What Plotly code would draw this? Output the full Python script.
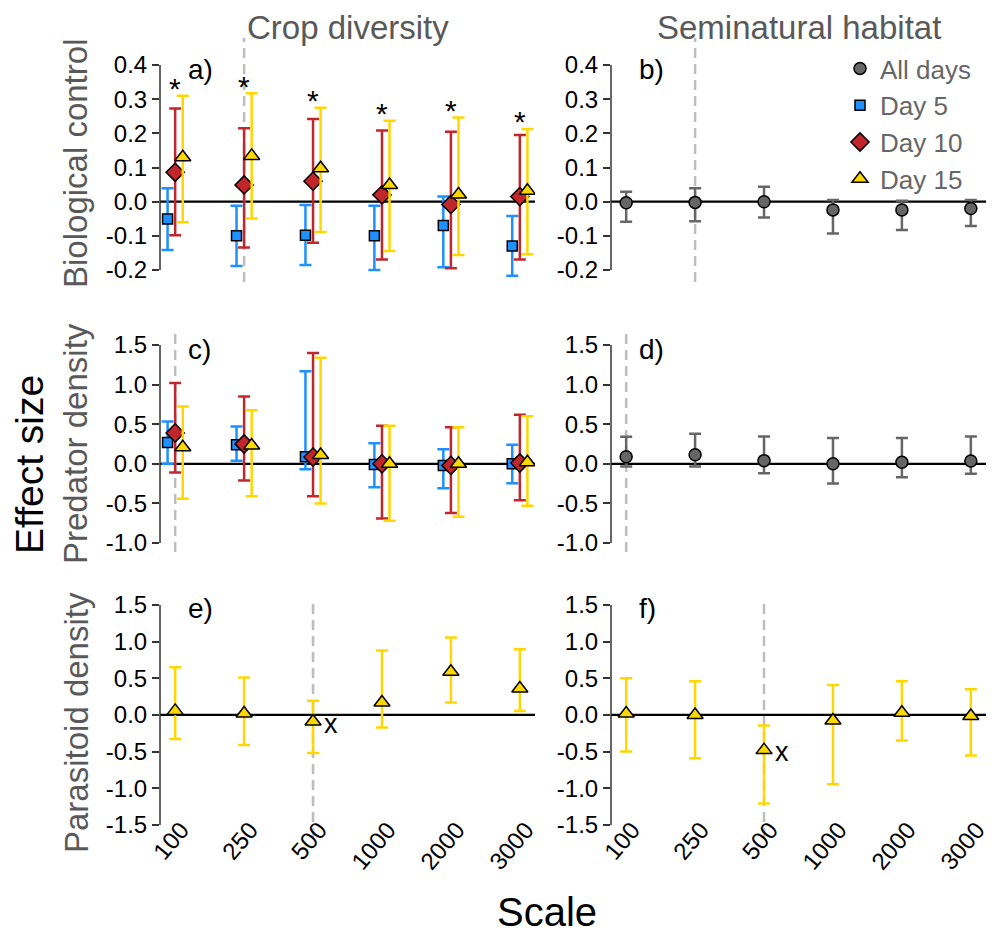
import plotly.graph_objects as go

# ---------------- data ----------------
scales = ["100", "250", "500", "1000", "2000", "3000"]

# a) Biological control - crop diversity
bc_crop_d5 = [-0.051, -0.100, -0.098, -0.100, -0.070, -0.130]
bc_crop_d5_lo = [-0.141, -0.188, -0.185, -0.200, -0.192, -0.217]
bc_crop_d5_hi = [0.039, -0.012, -0.010, -0.012, 0.015, -0.042]
bc_crop_d10 = [0.086, 0.049, 0.060, 0.020, -0.008, 0.015]
bc_crop_d10_lo = [-0.098, -0.134, -0.120, -0.169, -0.195, -0.169]
bc_crop_d10_hi = [0.273, 0.215, 0.242, 0.208, 0.205, 0.195]
bc_crop_d15 = [0.130, 0.134, 0.098, 0.049, 0.021, 0.032]
bc_crop_d15_lo = [-0.060, -0.049, -0.089, -0.144, -0.156, -0.154]
bc_crop_d15_hi = [0.310, 0.317, 0.275, 0.237, 0.246, 0.213]
bc_crop_signif = ["*", "*", "*", "*", "*", "*"]

# b) Biological control - seminatural habitat
bc_semi_all = [-0.003, -0.002, 0.000, -0.024, -0.024, -0.020]
bc_semi_all_lo = [-0.059, -0.057, -0.046, -0.093, -0.083, -0.071]
bc_semi_all_hi = [0.029, 0.039, 0.044, 0.005, 0.003, 0.005]

# c) Predator density - crop diversity
pd_crop_d5 = [0.27, 0.24, 0.09, -0.01, -0.02, 0.00]
pd_crop_d5_lo = [0.00, 0.04, -0.07, -0.295, -0.31, -0.245]
pd_crop_d5_hi = [0.535, 0.47, 1.17, 0.26, 0.185, 0.24]
pd_crop_d10 = [0.39, 0.25, 0.085, 0.00, -0.02, 0.01]
pd_crop_d10_lo = [-0.11, -0.21, -0.41, -0.69, -0.62, -0.46]
pd_crop_d10_hi = [1.02, 0.85, 1.40, 0.48, 0.46, 0.62]
pd_crop_d15 = [0.21, 0.23, 0.11, 0.00, 0.00, 0.02]
pd_crop_d15_lo = [-0.44, -0.41, -0.50, -0.72, -0.67, -0.53]
pd_crop_d15_hi = [0.725, 0.675, 1.34, 0.48, 0.46, 0.60]

# d) Predator density - seminatural habitat
pd_semi_all = [0.09, 0.115, 0.04, 0.00, 0.02, 0.035]
pd_semi_all_lo = [-0.035, -0.035, -0.12, -0.25, -0.17, -0.125]
pd_semi_all_hi = [0.34, 0.38, 0.345, 0.325, 0.325, 0.345]

# e) Parasitoid density - crop diversity (day 15)
par_crop_d15 = [0.055, 0.02, -0.09, 0.17, 0.59, 0.36]
par_crop_d15_lo = [-0.33, -0.41, -0.52, -0.17, 0.17, 0.055]
par_crop_d15_hi = [0.65, 0.51, 0.195, 0.88, 1.055, 0.895]
par_crop_flag = ["", "", "x", "", "", ""]

# f) Parasitoid density - seminatural habitat (day 15)
par_semi_d15 = [0.02, 0.00, -0.48, -0.077, 0.03, -0.015]
par_semi_d15_lo = [-0.50, -0.59, -1.21, -0.945, -0.35, -0.555]
par_semi_d15_hi = [0.50, 0.46, -0.145, 0.41, 0.46, 0.35]
par_semi_flag = ["", "", "x", "", "", ""]

# selected (best) scale per panel a..f
best_scale = ["250", "250", "100", "100", "500", "500"]

col_title = ["Crop diversity", "Seminatural habitat"]
row_title = ["Biological control", "Predator density", "Parasitoid density"]
panel_tags = ["a)", "b)", "c)", "d)", "e)", "f)"]
row_ticks = [
    [-0.2, -0.1, 0.0, 0.1, 0.2, 0.3, 0.4],
    [-1.0, -0.5, 0.0, 0.5, 1.0, 1.5],
    [-1.5, -1.0, -0.5, 0.0, 0.5, 1.0, 1.5],
]

# ---------------- style ----------------
W, H = 997, 938
FONT = "Liberation Sans, Arial, sans-serif"
BLUE = "#1E90FF"
RED = "#C0272D"
GOLD = "#FFD700"
GREY = "#666666"
AXC = "#333333"
TITLEC = "#595959"


def px(x):
    return x / W


def py(y):
    return 1 - y / H


col_px = [(160, 535), (611, 986)]
row_px = [(38, 282), (328, 552), (600, 838)]
row_range = [[-0.235, 0.479], [-1.114, 1.715], [-1.679, 1.568]]
XR = [0.78, 6.22]
dodge = 0.11

fig = go.Figure()
layout = dict(
    width=W, height=H,
    margin=dict(l=0, r=0, t=0, b=0, autoexpand=False),
    paper_bgcolor="white", plot_bgcolor="white",
    font=dict(family=FONT, size=24, color="black"),
    showlegend=True,
)

shapes = []
annotations = []
xi = list(range(1, 7))

for r in range(3):
    for c in range(2):
        k = r * 2 + c + 1
        xa = "xaxis" if k == 1 else f"xaxis{k}"
        ya = "yaxis" if k == 1 else f"yaxis{k}"
        xr = "x" if k == 1 else f"x{k}"
        yr = "y" if k == 1 else f"y{k}"
        xd = [px(col_px[c][0]), px(col_px[c][1])]
        yd = [py(row_px[r][1]), py(row_px[r][0])]
        xax = dict(domain=xd, range=XR, anchor=yr, showgrid=False, zeroline=False,
                   showline=False, tickmode="array", tickvals=xi, ticktext=scales,
                   showticklabels=False, ticks="", automargin=False)
        if r == 2:
            xax.update(showticklabels=True, tickangle=-50, anchor="free",
                       position=py(810), ticklabelshift=6,
                       tickfont=dict(size=24, color="black", family=FONT))
        layout[xa] = xax
        tv = row_ticks[r]
        layout[ya] = dict(domain=yd, range=row_range[r], anchor=xr, showgrid=False,
                          zeroline=False, showline=False, tickmode="array", tickvals=tv,
                          ticktext=[f"{v:.1f}" for v in tv], ticks="outside", ticklen=7,
                          tickwidth=1.5, tickcolor=AXC, automargin=False,
                          tickfont=dict(size=24, color="black", family=FONT))
        # partial y axis line (from first to last tick)
        shapes.append(dict(type="line", xref=f"{xr} domain", yref=yr, x0=0, x1=0,
                           y0=tv[0], y1=tv[-1], line=dict(color=AXC, width=1.5)))
        # zero line
        shapes.append(dict(type="line", xref=f"{xr} domain", yref=yr, x0=0, x1=1,
                           y0=0, y1=0, line=dict(color="black", width=2.2), layer="below"))
        # dashed line at best scale
        bx = scales.index(best_scale[k - 1]) + 1
        shapes.append(dict(type="line", xref=xr, yref=f"{yr} domain", x0=bx, x1=bx,
                           y0=0, y1=1, line=dict(color="#BDBDBD", width=2.5, dash="10px,6px"),
                           layer="below"))
        # panel tag
        annotations.append(dict(text=panel_tags[k - 1], xref=f"{xr} domain", yref=yr,
                                x=0.07, y=tv[-1], xanchor="left", yanchor="middle",
                                yshift=-4, showarrow=False,
                                font=dict(size=28, color="black", family=FONT)))


def add_series(k, xs, y, lo, hi, color, symbol, size, name, show, rank):
    xr = "x" if k == 1 else f"x{k}"
    yr = "y" if k == 1 else f"y{k}"
    fig.add_trace(go.Scatter(
        x=xs, y=y, xaxis=xr, yaxis=yr, mode="markers", name=name,
        showlegend=show, legendrank=rank, legendgroup=name,
        marker=dict(symbol=symbol, size=size, color=color,
                    line=dict(color="black", width=1.5)),
        error_y=dict(type="data", symmetric=False,
                     array=[h - v for h, v in zip(hi, y)],
                     arrayminus=[v - l for v, l in zip(y, lo)],
                     color=color, thickness=2.5, width=6),
        hoverinfo="skip",
    ))


xm = [i - dodge for i in xi]
xp = [i + dodge for i in xi]

# a)
add_series(1, xm, bc_crop_d5, bc_crop_d5_lo, bc_crop_d5_hi, BLUE, "square", 10, "Day 5", True, 2)
add_series(1, xi, bc_crop_d10, bc_crop_d10_lo, bc_crop_d10_hi, RED, "diamond", 14, "Day 10", True, 3)
add_series(1, xp, bc_crop_d15, bc_crop_d15_lo, bc_crop_d15_hi, GOLD, "triangle-up", 14, "Day 15", True, 4)
# b)
add_series(2, xi, bc_semi_all, bc_semi_all_lo, bc_semi_all_hi, GREY, "circle", 12, "All days", True, 1)
# c)
add_series(3, xm, pd_crop_d5, pd_crop_d5_lo, pd_crop_d5_hi, BLUE, "square", 10, "Day 5", False, 2)
add_series(3, xi, pd_crop_d10, pd_crop_d10_lo, pd_crop_d10_hi, RED, "diamond", 14, "Day 10", False, 3)
add_series(3, xp, pd_crop_d15, pd_crop_d15_lo, pd_crop_d15_hi, GOLD, "triangle-up", 14, "Day 15", False, 4)
# d)
add_series(4, xi, pd_semi_all, pd_semi_all_lo, pd_semi_all_hi, GREY, "circle", 12, "All days", False, 1)
# e)
add_series(5, xi, par_crop_d15, par_crop_d15_lo, par_crop_d15_hi, GOLD, "triangle-up", 14, "Day 15", False, 4)
# f)
add_series(6, xi, par_semi_d15, par_semi_d15_lo, par_semi_d15_hi, GOLD, "triangle-up", 14, "Day 15", False, 4)

# significance marks
for i, s in enumerate(bc_crop_signif):
    if s:
        annotations.append(dict(text=s, x=xi[i], y=bc_crop_d15_hi[i], xref="x", yref="y",
                                showarrow=False, yanchor="middle", yshift=7,
                                font=dict(size=30, color="black", family=FONT)))
for k, flags, vals in ((5, par_crop_flag, par_crop_d15), (6, par_semi_flag, par_semi_d15)):
    for i, s in enumerate(flags):
        if s:
            annotations.append(dict(text=s, x=xi[i], y=vals[i], xref=f"x{k}", yref=f"y{k}",
                                    showarrow=False, xanchor="left", yanchor="middle",
                                    xshift=9, yshift=-2,
                                    font=dict(size=27, color="black", family=FONT)))

# column titles
for c, t in enumerate(col_title):
    annotations.append(dict(text=t, x=px((col_px[c][0] + col_px[c][1]) / 2), y=py(27),
                            xref="paper", yref="paper", showarrow=False,
                            xanchor="center", yanchor="middle",
                            font=dict(size=33, color=TITLEC, family=FONT)))
# row titles
for r, t in enumerate(row_title):
    annotations.append(dict(text=t, x=px(76), y=py((row_px[r][0] + row_px[r][1]) / 2 + 4),
                            xref="paper", yref="paper", showarrow=False, textangle=-90,
                            xanchor="center", yanchor="middle",
                            font=dict(size=33, color=TITLEC, family=FONT)))
annotations.append(dict(text="Effect size", x=px(29), y=py(465), xref="paper", yref="paper",
                        showarrow=False, textangle=-90, xanchor="center", yanchor="middle",
                        font=dict(size=39, color="black", family=FONT)))
annotations.append(dict(text="Scale", x=px(547), y=py(912), xref="paper", yref="paper",
                        showarrow=False, xanchor="center", yanchor="middle",
                        font=dict(size=40, color="black", family=FONT)))

layout["shapes"] = shapes
layout["annotations"] = annotations
layout["legend"] = dict(x=px(840), y=py(45), xanchor="left", yanchor="top",
                        font=dict(size=26, color="#666666", family=FONT),
                        bgcolor="rgba(0,0,0,0)", tracegroupgap=0, itemsizing="trace")
fig.update_layout(**layout)
fig.write_html("out.html")
